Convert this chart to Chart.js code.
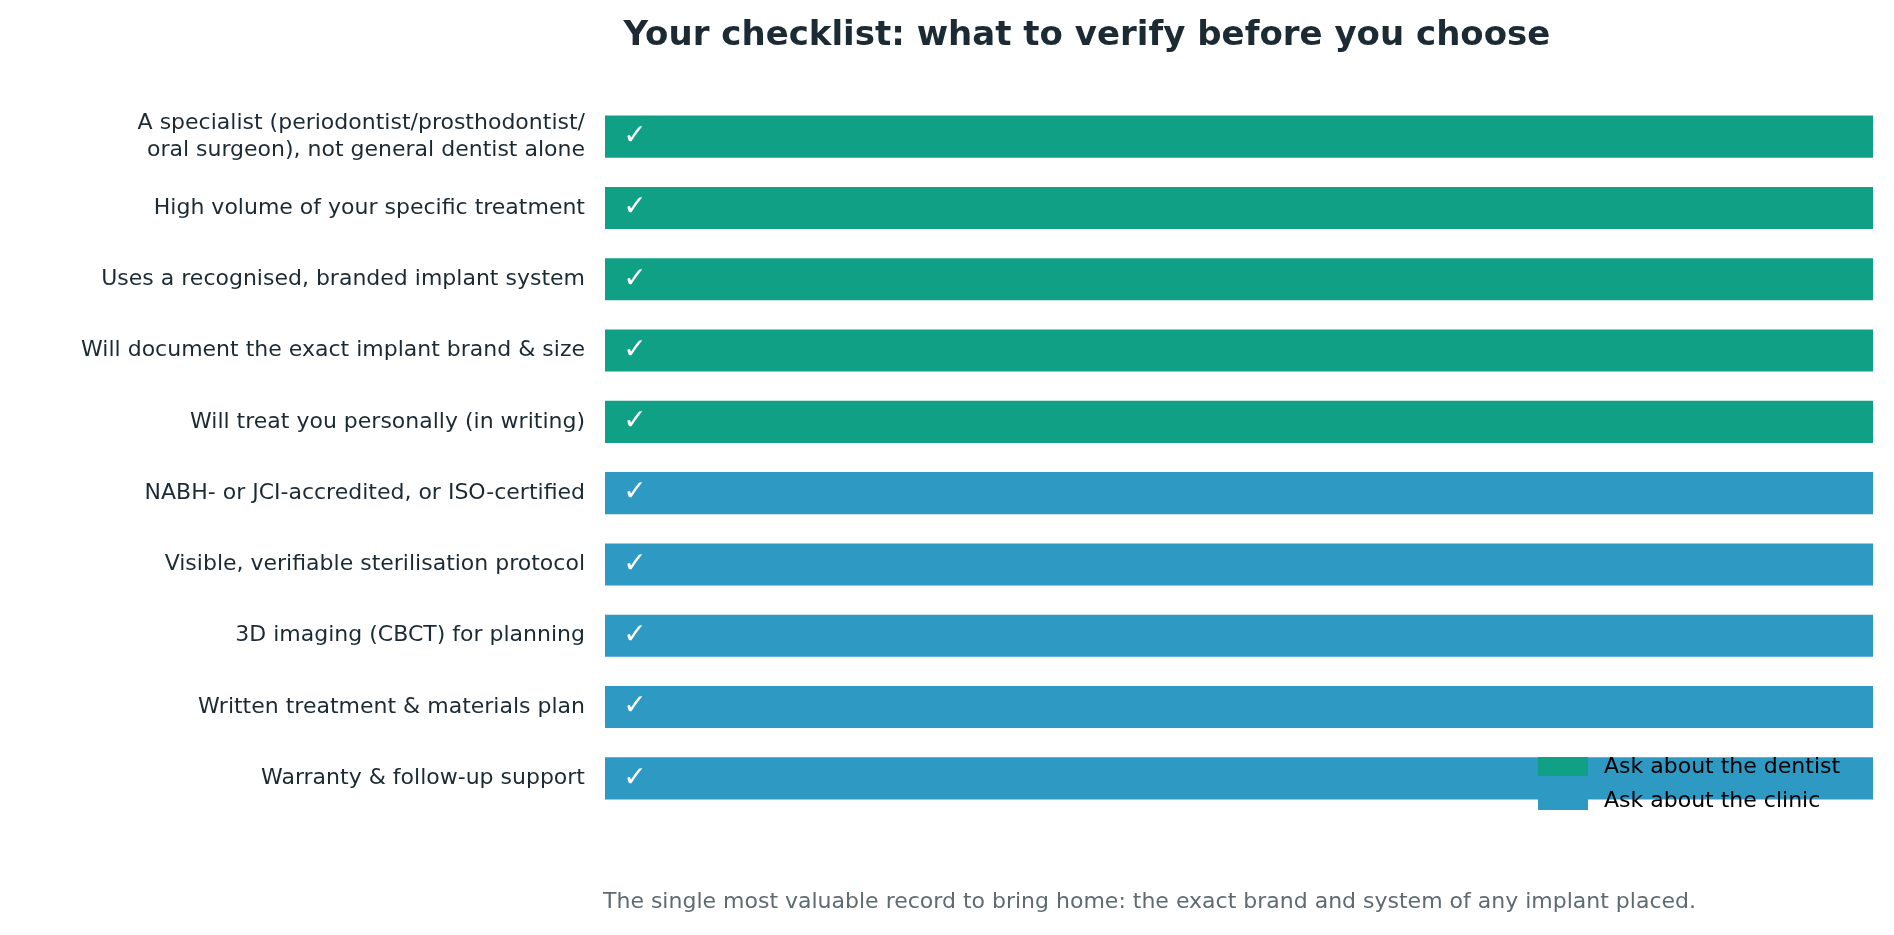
<!DOCTYPE html>
<html>
<head>
<meta charset="utf-8">
<script src="https://cdn.jsdelivr.net/npm/chart.js@4/dist/chart.umd.min.js"></script>
<style>
  html, body { margin: 0; padding: 0; background: #fff; }
  #wrap { width: 1894px; height: 935px; }
</style>
</head>
<body>
<div id="wrap"><canvas id="chart" width="1894" height="935"></canvas></div>
<script>
// checklist items, top to bottom
const items = [
  ['A specialist (periodontist/prosthodontist/', 'oral surgeon), not general dentist alone'],
  'High volume of your specific treatment',
  'Uses a recognised, branded implant system',
  'Will document the exact implant brand & size',
  'Will treat you personally (in writing)',
  'NABH- or JCI-accredited, or ISO-certified',
  'Visible, verifiable sterilisation protocol',
  '3D imaging (CBCT) for planning',
  'Written treatment & materials plan',
  'Warranty & follow-up support'
];
const dentistVals = [1, 1, 1, 1, 1, null, null, null, null, null];
const clinicVals = [null, null, null, null, null, 1, 1, 1, 1, 1];
const seriesNames = ['Ask about the dentist', 'Ask about the clinic'];
const colors = ['#0fa086', '#2e9ac4'];

const FONT = '"DejaVu Sans", sans-serif';

const extras = {
  id: 'extras',
  afterDatasetsDraw(chart) {
    const ctx = chart.ctx;
    const x = chart.scales.x, y = chart.scales.y;
    ctx.save();
    // check marks
    ctx.fillStyle = '#fff';
    ctx.font = '28px ' + FONT;
    ctx.textAlign = 'center';
    ctx.textBaseline = 'middle';
    items.forEach((_, i) => ctx.fillText('\u2713', x.getPixelForValue(0) + 30, y.getPixelForValue(i)));
    // title
    ctx.fillStyle = '#1c2b33';
    ctx.font = 'bold 34px ' + FONT;
    ctx.textAlign = 'center';
    ctx.fillText('Your checklist: what to verify before you choose', 1087, 36);
    // footnote
    ctx.fillStyle = '#5f6b70';
    ctx.font = '22px ' + FONT;
    ctx.textAlign = 'left';
    ctx.fillText('The single most valuable record to bring home: the exact brand and system of any implant placed.', 603, 902);
    // legend
    ctx.font = '22px ' + FONT;
    seriesNames.forEach((n, i) => {
      const top = 757 + i * 34;
      ctx.fillStyle = colors[i];
      ctx.fillRect(1538, top, 50, 19);
      ctx.fillStyle = '#000';
      ctx.fillText(n, 1604, top + 10);
    });
    ctx.restore();
  }
};

new Chart(document.getElementById('chart'), {
  type: 'bar',
  data: {
    labels: items,
    datasets: [
      { label: seriesNames[0], data: dentistVals, backgroundColor: colors[0] },
      { label: seriesNames[1], data: clinicVals, backgroundColor: colors[1] }
    ]
  },
  options: {
    indexAxis: 'y',
    responsive: false,
    animation: false,
    barPercentage: 0.59,
    categoryPercentage: 1,
    layout: { padding: { top: 101, bottom: 121, right: 21, left: 0 } },
    plugins: { legend: { display: false }, tooltip: { enabled: false } },
    scales: {
      x: { stacked: true, display: false, min: 0, max: 1 },
      y: {
        stacked: true,
        grid: { display: false },
        border: { display: false },
        ticks: { color: '#1c2b33', font: { family: FONT, size: 22 }, padding: 12 },
        afterFit(s) { s.width = 605; }
      }
    }
  },
  plugins: [extras]
});
</script>
</body>
</html>
